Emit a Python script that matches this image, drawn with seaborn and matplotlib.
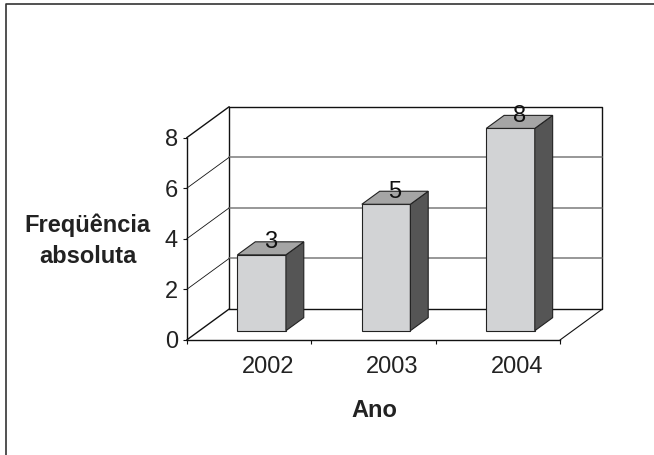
import matplotlib
matplotlib.use("Agg")
import matplotlib.pyplot as plt
from matplotlib.lines import Line2D
from matplotlib.patches import Polygon
import seaborn as sns
import pandas as pd

# ---- data ----
anos = ["2002", "2003", "2004"]
frequencia = [3, 5, 8]
y_ticks = [0, 2, 4, 6, 8]
y_label = "Freqüência\nabsoluta"
x_label = "Ano"

sns.set_style("white")
plt.rcParams["font.family"] = ["Liberation Sans", "DejaVu Sans"]
FS = 17

W, H = 654, 455
fig = plt.figure(figsize=(W / 100, H / 100), dpi=100)
ax = fig.add_axes([186.7 / W, 1 - 340 / H, (560 - 186.7) / W, (340 - 137.7) / H])

df = pd.DataFrame({"ano": anos, "freq": frequencia})
sns.barplot(data=df, x="ano", y="freq", ax=ax, width=0.39, color="#d2d3d5",
            saturation=1, edgecolor="#222222", linewidth=0.8, zorder=5)

ax.set_xlim(-0.5, 2.5)
ax.set_ylim(0, 8)

# pixel depth of the 3D frame converted to data units
p0 = ax.transData.transform((0, 0))
p1 = ax.transData.transform((1, 1))
ppx, ppy = p1[0] - p0[0], p1[1] - p0[1]
ddx, ddy = 42.5 / ppx, 31.0 / ppy
f0, f1 = 0.30, 0.72

xl, xr = ax.get_xlim()
ymax = max(y_ticks)
kw = dict(clip_on=False)
# back wall
ax.plot([xl + ddx, xr + ddx, xr + ddx, xl + ddx, xl + ddx],
        [ddy, ddy, ymax + ddy, ymax + ddy, ddy], color="#111111", lw=1.0, zorder=1, **kw)
for v in y_ticks[1:-1]:
    ax.plot([xl + ddx, xr + ddx], [v + ddy, v + ddy], color="#7a7a7a", lw=1.1, zorder=1, **kw)
# side wall diagonals
for v in y_ticks:
    lw = 1.0 if v in (y_ticks[0], y_ticks[-1]) else 0.6
    ax.plot([xl, xl + ddx], [v, v + ddy], color="#111111", lw=lw, zorder=1, **kw)
# floor right edge
ax.plot([xr, xr + ddx], [0, ddy], color="#111111", lw=0.8, zorder=1, **kw)

# 3D bars built from the seaborn patches
s = f1 - f0
for p, val in zip(list(ax.patches), frequencia):
    p.set_clip_on(False)
    p.set_x(p.get_x() + f0 * ddx)
    p.set_y(f0 * ddy)
    x0, w, h, b = p.get_x(), p.get_width(), p.get_height(), p.get_y()
    x1 = x0 + w
    side = Polygon([(x1, b), (x1, b + h), (x1 + s * ddx, b + h + s * ddy), (x1 + s * ddx, b + s * ddy)],
                   closed=True, facecolor="#555555", edgecolor="#222222", lw=0.8, zorder=5, **kw)
    top = Polygon([(x0, b + h), (x1, b + h), (x1 + s * ddx, b + h + s * ddy), (x0 + s * ddx, b + h + s * ddy)],
                  closed=True, facecolor="#a5a5a5", edgecolor="#222222", lw=0.8, zorder=5, **kw)
    ax.add_patch(side)
    ax.add_patch(top)
    xc = x0 + w / 2
    ax.text(xc + 0.5 * s * ddx, b + h + 0.5 * s * ddy, str(val), ha="center",
            va="baseline", fontsize=FS, color="#111111", zorder=6, clip_on=False)

# axes / spines
for sp in ["top", "right"]:
    ax.spines[sp].set_visible(False)
ax.spines["left"].set_bounds(0, ymax)
ax.spines["left"].set_color("#111111")
ax.spines["bottom"].set_color("#111111")
ax.spines["left"].set_linewidth(1.0)
ax.spines["bottom"].set_linewidth(1.0)
ax.set_yticks(y_ticks)
ax.set_yticklabels([str(v) for v in y_ticks])
ax.set_xticks([i - 0.5 for i in range(len(anos) + 1)])
ax.set_xticklabels([""] * (len(anos) + 1))
ax.tick_params(axis="y", direction="out", length=3, width=0.8, pad=3.2, labelsize=FS,
               left=True, colors="#111111")
ax.tick_params(axis="x", direction="out", length=3, width=0.8, bottom=True, colors="#111111")
for lab in ax.get_yticklabels():
    lab.set_color("#222222")

# category labels placed under the bars (shifted by the depth like the original)
for i, a in enumerate(anos):
    ax.text(i + 19.0 / ppx, -33.3 / ppy, a, ha="center", va="baseline", fontsize=FS,
            color="#222222", clip_on=False)

ax.set_xlabel("")
ax.set_ylabel("")
ax.text((87.8 - 186.7) / (560 - 186.7), (340 - 262.7) / (340 - 137.7), y_label,
        transform=ax.transAxes, ha="center", va="baseline", fontsize=FS, fontweight="bold",
        color="#222222", linespacing=1.41, multialignment="center")
ax.text((374 - 186.7) / (560 - 186.7), (340 - 416.7) / (340 - 137.7), x_label,
        transform=ax.transAxes, ha="center", va="baseline", fontsize=FS, fontweight="bold",
        color="#222222")
ax.patch.set_alpha(0)

# outer frame (left and top edges only)
fig.add_artist(Line2D([6 / W, 6 / W, 1], [0, 1 - 4 / H, 1 - 4 / H], color="#333333", lw=1.2))

fig.savefig("out.png", dpi=100)
